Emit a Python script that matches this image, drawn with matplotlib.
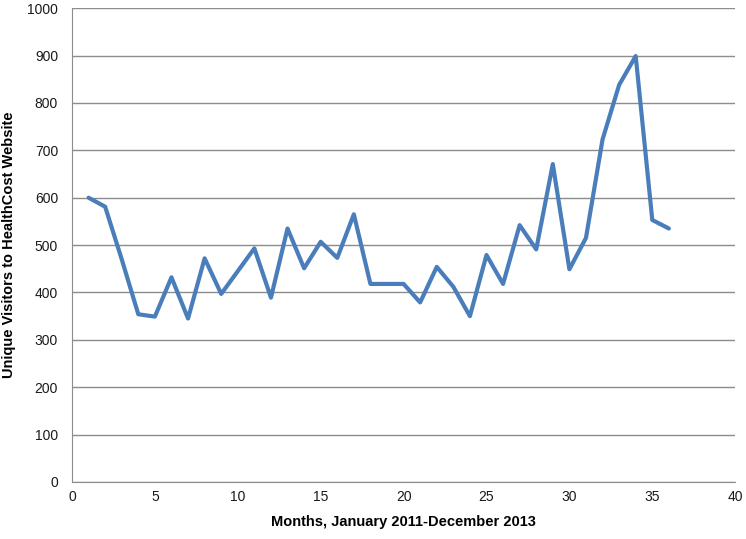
import matplotlib
matplotlib.use("Agg")
import matplotlib.pyplot as plt

months = list(range(1, 37))
visitors = [600, 581, 470, 354, 349, 432, 345, 472, 397, 445, 493, 389,
            535, 451, 507, 473, 565, 418, 418, 418, 379, 454, 412, 350,
            479, 418, 542, 491, 671, 449, 515, 723, 838, 899, 553, 535]
xticks = [0, 5, 10, 15, 20, 25, 30, 35, 40]
yticks = [0, 100, 200, 300, 400, 500, 600, 700, 800, 900, 1000]

plt.rcParams['font.family'] = ['Liberation Sans', 'DejaVu Sans']

fig = plt.figure(figsize=(7.46, 5.39), dpi=100)
ax = fig.add_axes([0.0965, 0.1058, 0.889, 0.879])
ax.plot(months, visitors, color='#4A7EBB', linewidth=3.0,
        solid_joinstyle='round', solid_capstyle='round')
ax.set_xlim(0, 40)
ax.set_ylim(0, 1000)
ax.set_xticks(xticks)
ax.set_yticks(yticks)
ax.grid(axis='y', color='#8c8c8c', linewidth=1)
ax.set_axisbelow(True)
for s in ['top', 'right']:
    ax.spines[s].set_visible(False)
for s in ['left', 'bottom']:
    ax.spines[s].set_color('#8c8c8c')
ax.tick_params(axis='both', length=0, labelsize=10, pad=6, colors='#1a1a1a')
ax.tick_params(axis='y', pad=10)
ax.set_xlabel('Months, January 2011-December 2013', fontsize=10.5, fontweight='bold', labelpad=8)
ax.set_ylabel('Unique Visitors to HealthCost Website', fontsize=10.5, fontweight='bold', labelpad=8)
fig.savefig('out.png', dpi=100)
